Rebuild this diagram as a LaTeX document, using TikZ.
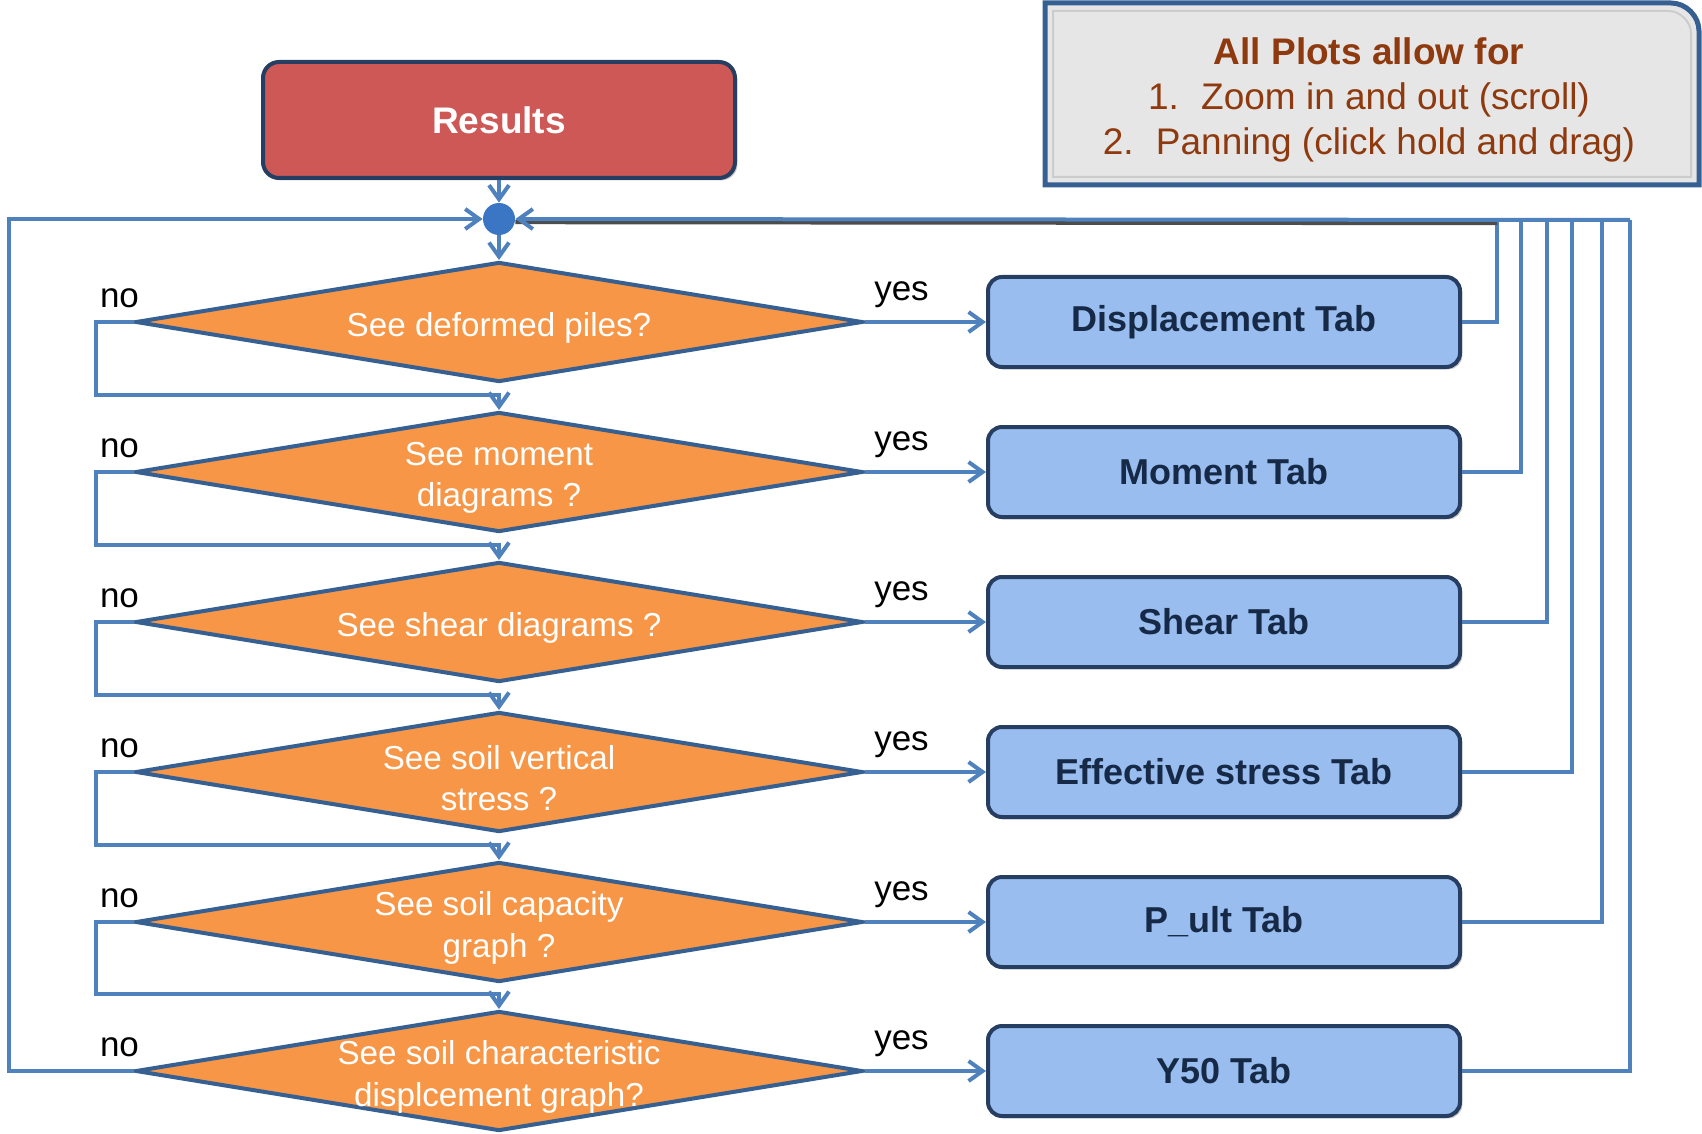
\documentclass[tikz,border=0pt]{standalone}
\usepackage{fontspec}
\setmainfont{Liberation Sans}
\usetikzlibrary{positioning,shapes.geometric,arrows.meta,shadows}

\definecolor{lineblue}{RGB}{79,129,189}
\definecolor{edgeblue}{RGB}{55,96,146}
\definecolor{darkedge}{RGB}{38,62,98}
\definecolor{orangefill}{RGB}{247,150,70}
\definecolor{tabfill}{RGB}{153,189,238}
\definecolor{tabtext}{RGB}{22,42,72}
\definecolor{resultred}{RGB}{205,88,86}
\definecolor{hubblue}{RGB}{58,118,196}
\definecolor{infobrown}{RGB}{142,58,14}
\definecolor{infogray}{RGB}{230,230,230}

\tikzset{
  conn/.style={lineblue, line width=2pt},
  flow/.style={conn, -{Straight Barb[length=7pt,width=10pt,line width=2pt]}},
  decision/.style={diamond, draw=edgeblue, line width=2pt, fill=orangefill,
    aspect=6.06, minimum width=363.5pt, minimum height=60pt, inner sep=0pt},
  qtext/.style={text=white, align=center, font=\fontsize{16.6}{20.6}\selectfont},
  tabbox/.style={rectangle, rounded corners=7pt, draw=darkedge, line width=2pt,
    fill=tabfill, minimum width=236pt, minimum height=45pt, text=tabtext,
    font=\fontsize{18}{22}\selectfont\bfseries,
    drop shadow={shadow xshift=1.2pt, shadow yshift=-1.2pt, opacity=0.45}},
  lbl/.style={font=\fontsize{17.5}{21}\selectfont},
}

\begin{document}
\begin{tikzpicture}[x=0.5pt, y=-0.5pt]
  \useasboundingbox (0,0) rectangle (1702,1134);

  % Info panel
  \draw[draw=edgeblue, line width=2.5pt, fill=infogray]
    (1045,185) -- (1045,3) -- (1671,3)
    .. controls (1686,3) and (1699,16) .. (1699,31) -- (1699,185) -- cycle;
  \draw[white!60!gray, line width=1pt]
    (1053,177) -- (1053,11) -- (1669,11)
    .. controls (1680,11) and (1691,22) .. (1691,33) -- (1691,177) -- cycle;
  \node[align=center, text=infobrown, font=\fontsize{18.5}{22.5}\selectfont]
    (info) at (1369,99.5) {\textbf{All Plots allow for}\\
      1.\hspace{0.6em}Zoom in and out (scroll)\\
      2.\hspace{0.6em}Panning (click hold and drag)};

  % Start box and hub
  \node[rectangle, rounded corners=8pt, draw=darkedge, line width=2pt,
    fill=resultred, minimum width=236pt, minimum height=58pt, text=white,
    font=\fontsize{18.5}{22}\selectfont\bfseries,
    drop shadow={shadow xshift=1.2pt, shadow yshift=-1.2pt, opacity=0.45}]
    (res) at (499,120) {Results};
  \node[circle, fill=hubblue, minimum size=16pt, inner sep=0pt] (hub) at (499,219) {};

  % Questions
  \foreach \i/\yq in {1/322,2/472,3/622,4/772,5/922,6/1071}
    \node[decision] (d\i) at (499,\yq) {};
  \node[qtext] (q1) at ([yshift=-3pt]d1.center) {See deformed piles?};
  \node[qtext] (q2) at ([yshift=-3pt]d2.center) {See moment\\diagrams ?};
  \node[qtext] (q3) at ([yshift=-3pt]d3.center) {See shear diagrams ?};
  \node[qtext] (q4) at ([yshift=-3pt]d4.center) {See soil vertical\\stress ?};
  \node[qtext] (q5) at ([yshift=-3pt]d5.center) {See soil capacity\\graph ?};
  \node[qtext] (q6) at ([yshift=-3pt]d6.center) {See soil characteristic\\displcement graph?};

  % Tabs
  \node[tabbox] (t1) at (1224,322) {Displacement Tab};
  \node[tabbox] (t2) at (1224,472) {Moment Tab};
  \node[tabbox] (t3) at (1224,622) {Shear Tab};
  \node[tabbox] (t4) at (1224,772) {Effective stress Tab};
  \node[tabbox] (t5) at (1224,922) {P\_ult Tab};
  \node[tabbox] (t6) at (1224,1071) {Y50 Tab};

  % yes / no
  \foreach \i in {1,...,6} {
    \node[lbl] (no\i) at ([xshift=-7pt, yshift=12pt]d\i.west) {no};
    \node[lbl] (yes\i) at ([xshift=18.5pt, yshift=13.5pt]d\i.east) {yes};
    \draw[flow] (d\i.east) -- (t\i.west);
  }

  % no branches
  \foreach \i [evaluate=\i as \j using int(\i+1)] in {1,...,5} {
    \draw[flow] (d\i.west) -- ++(-38,0) |- ([yshift=7.5pt]d\j.north) -- (d\j.north);
  }
  \draw[flow] (d6.west) -- ++(-125,0) |- (hub);

  % return lines
  \foreach \i/\xr in {1/1497,2/1521,3/1547,4/1572,5/1602,6/1630} {
    \coordinate (r\i) at (\xr,220);
    \draw[conn] (t\i.east) -| (r\i);
  }
  \draw[black!70, line width=2pt] ([yshift=-1.6pt]hub.east) -- ([yshift=-1.6pt]r1);
  \draw[flow] (r6) -- (hub);

  \draw[flow] (res) -- (hub);
  \draw[flow] (hub) -- (d1);
\end{tikzpicture}
\end{document}
